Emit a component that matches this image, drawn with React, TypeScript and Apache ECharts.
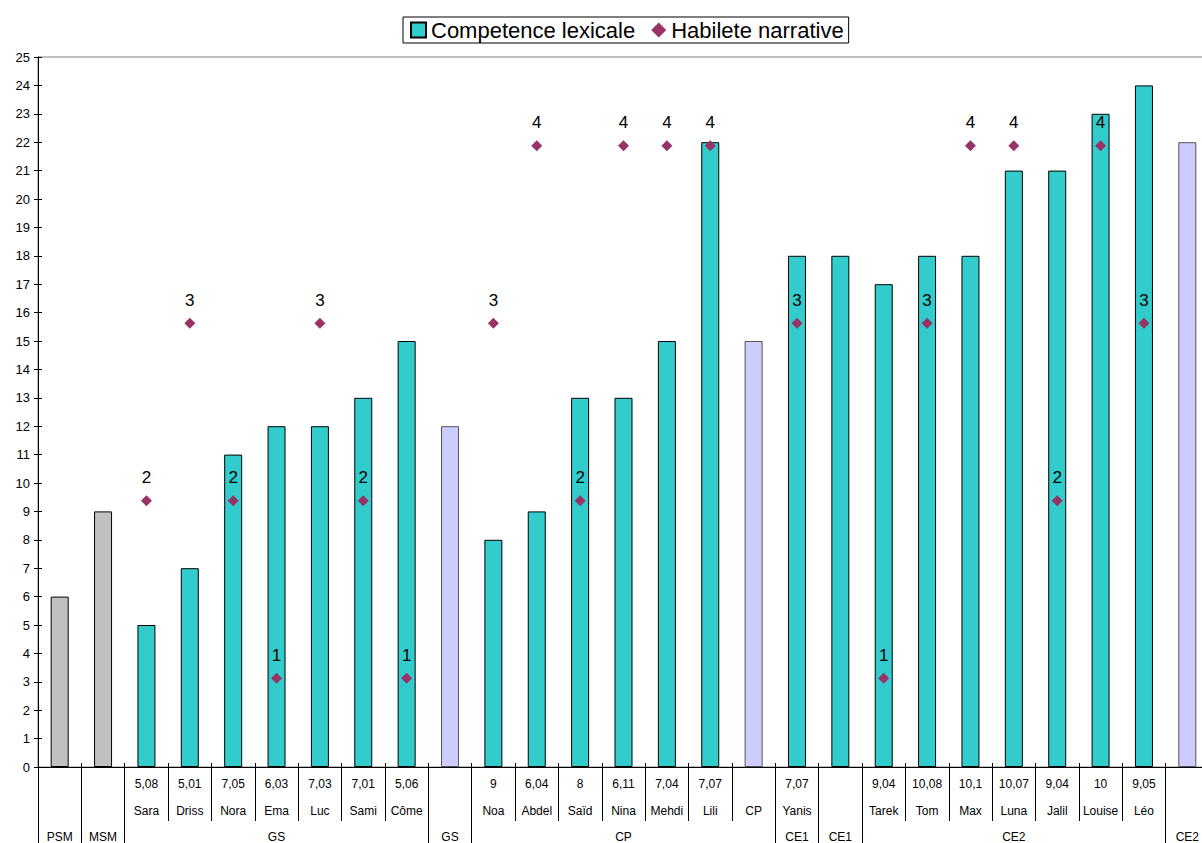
import React, { useEffect, useRef } from "react";
import * as echarts from "echarts";

// Row 1 of the category axis (ages), row 2 (names)
const ages = ["", "", "5,08", "5,01", "7,05", "6,03", "7,03", "7,01", "5,06", "", "9", "6,04", "8", "6,11", "7,04", "7,07", "", "7,07", "", "9,04", "10,08", "10,1", "10,07", "9,04", "10", "9,05", ""];
const names = ["", "", "Sara", "Driss", "Nora", "Ema", "Luc", "Sami", "Côme", "", "Noa", "Abdel", "Saïd", "Nina", "Mehdi", "Lili", "CP", "Yanis", "", "Tarek", "Tom", "Max", "Luna", "Jalil", "Louise", "Léo", ""];
// Row 3 (groups) : [label, number of categories]
const groupSpans: [string, number][] = [["PSM", 1], ["MSM", 1], ["GS", 7], ["GS", 1], ["CP", 7], ["CE1", 1], ["CE1", 1], ["CE2", 7], ["CE2", 1]];

const lexical = [6, 9, 5, 7, 11, 12, 12, 13, 15, 12, 8, 9, 13, 13, 15, 22, 15, 18, 18, 17, 18, 18, 21, 21, 23, 24, 22];
const narrative = [null, null, 2, 3, 2, 1, 3, 2, 1, null, 3, 4, 2, 4, 4, 4, null, 3, null, 1, 3, 4, 4, 2, 4, 3, null];
// kind of each bar: norm (grey), pupil (teal), class (lavender)
const kinds = ["norm", "norm", "pupil", "pupil", "pupil", "pupil", "pupil", "pupil", "pupil", "class", "pupil", "pupil", "pupil", "pupil", "pupil", "pupil", "class", "pupil", "pupil", "pupil", "pupil", "pupil", "pupil", "pupil", "pupil", "pupil", "class"];

const yTicksMax = 25;

const FONT = "'Liberation Sans', Arial, Helvetica, sans-serif";

export default function App() {
  const ref = useRef<HTMLDivElement>(null);
  useEffect(() => {
    document.body.style.margin = "0";
    document.body.style.overflow = "hidden";
    const chart = echarts.init(ref.current!, null, { renderer: "svg" });

    const n = ages.length;
    const groupLabels: string[] = new Array(n).fill("");
    const boundaries = new Set<number>();
    let s = 0;
    groupSpans.forEach(([label, len]) => {
      boundaries.add(s);
      groupLabels[s + Math.floor(len / 2)] = label;
      s += len;
    });

    const styles: Record<string, any> = {
      norm: { color: "#C0C0C0", borderColor: "#000", borderWidth: 1 },
      pupil: { color: "#33CCCC", borderColor: "#000", borderWidth: 1 },
      class: { color: "#CCCCFF", borderColor: "#555", borderWidth: 1 },
    };

    chart.setOption({
      animation: false,
      textStyle: { fontFamily: FONT },
      legend: {
        top: 17,
        left: 403,
        borderColor: "#000",
        borderWidth: 1,
        padding: [2, 5, 2, 7],
        itemGap: 16,
        itemWidth: 15,
        itemHeight: 15,
        textStyle: { fontSize: 22, color: "#000", fontFamily: FONT },
        data: [
          { name: "Competence lexicale", icon: "rect" },
          { name: "Habilete narrative", icon: "diamond", itemStyle: { borderWidth: 0, opacity: 1 } },
        ],
      },
      grid: {
        left: 38,
        right: 5,
        top: 57,
        bottom: 75,
        show: true,
        borderColor: "#808080",
        borderWidth: 1,
      },
      xAxis: [
        {
          type: "category",
          data: ages,
          position: "bottom",
          offset: 0,
          axisLine: { show: true, lineStyle: { color: "#000", width: 1 } },
          axisTick: { show: true, length: 54, interval: 0, lineStyle: { color: "#000" } },
          axisLabel: { interval: 0, margin: 11, fontSize: 12, color: "#000", fontFamily: FONT },
        },
        {
          type: "category",
          data: names,
          position: "bottom",
          offset: 27,
          axisLine: { show: false },
          axisTick: { show: false },
          axisLabel: { interval: 0, margin: 11, fontSize: 12, color: "#000", fontFamily: FONT },
        },
        {
          type: "category",
          data: groupLabels,
          position: "bottom",
          offset: 54,
          axisLine: { show: false },
          axisTick: {
            show: true,
            length: 40,
            interval: (i: number) => boundaries.has(i),
            lineStyle: { color: "#000" },
          },
          axisLabel: { interval: 0, margin: 10, fontSize: 12, color: "#000", fontFamily: FONT },
        },
        {
          type: "category",
          data: names,
          position: "bottom",
          offset: 0,
          axisLine: { show: false },
          axisTick: { show: true, inside: true, length: 4, interval: 0, lineStyle: { color: "#000" } },
          axisLabel: { show: false },
        },
      ],
      yAxis: [
        {
          type: "value",
          min: 0,
          max: yTicksMax,
          interval: 1,
          axisLine: { show: true, lineStyle: { color: "#000", width: 1 } },
          axisTick: { show: true, length: 4, lineStyle: { color: "#000" } },
          splitLine: { show: false },
          axisLabel: { fontSize: 13, color: "#000", margin: 8, fontFamily: FONT },
        },
        { type: "value", min: 0.5, max: 4.5, show: false },
        {
          type: "value",
          min: 0,
          max: yTicksMax,
          interval: 1,
          position: "left",
          axisLine: { show: false },
          axisTick: { show: true, inside: true, length: 4, lineStyle: { color: "#000" } },
          axisLabel: { show: false },
          splitLine: { show: false },
        },
      ],
      series: [
        {
          name: "Competence lexicale",
          type: "bar",
          xAxisIndex: 0,
          yAxisIndex: 0,
          barWidth: 18,
          itemStyle: styles.pupil,
          data: lexical.map((v, i) => ({ value: v, itemStyle: styles[kinds[i]] })),
          z: 2,
        },
        {
          name: "Habilete narrative",
          type: "scatter",
          xAxisIndex: 0,
          yAxisIndex: 1,
          symbol: "diamond",
          symbolSize: 11,
          itemStyle: { color: "#993366", opacity: 1 },
          label: {
            show: true,
            position: "top",
            distance: 9,
            fontSize: 17,
            color: "#000",
            fontFamily: FONT,
          },
          data: narrative,
          z: 3,
        },
      ],
    });
    return () => chart.dispose();
  }, []);
  return <div ref={ref} style={{ width: 1214, height: 843 }} />;
}
